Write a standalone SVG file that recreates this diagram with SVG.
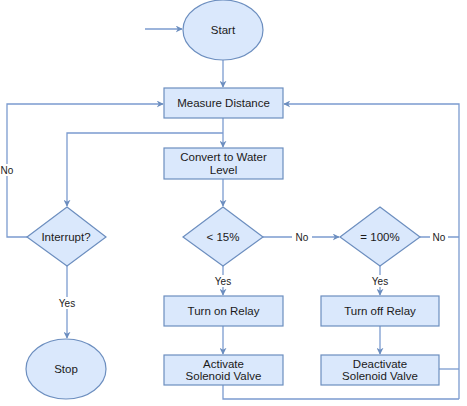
<svg xmlns="http://www.w3.org/2000/svg" width="467" height="406" viewBox="0 0 467 406">
<defs>
<marker id="ah" viewBox="0 0 10 10" refX="9" refY="5" markerWidth="7" markerHeight="7" orient="auto" markerUnits="userSpaceOnUse">
<path d="M0,0 L10,5 L0,10 L3,5 z" fill="#6c8ebf"/>
</marker>
<style>
.n{fill:#dae8fc;stroke:#6c8ebf;stroke-width:1.2}
.c{fill:none;stroke:#7b9bcf;stroke-width:1.3}
.t{font-family:"Liberation Sans",Arial,sans-serif;font-size:11.5px;fill:#1a1a1a;text-anchor:middle;dominant-baseline:central}
.l{font-family:"Liberation Sans",Arial,sans-serif;font-size:10px;fill:#1a1a1a;text-anchor:middle;dominant-baseline:central}
.lb{fill:#ffffff}
</style>
</defs>
<rect width="467" height="406" fill="#ffffff"/>
<g id="connectors">
<path class="c" d="M145,29 L182,29" marker-end="url(#ah)"/>
<path class="c" d="M223,60 L223,87" marker-end="url(#ah)"/>
<path class="c" d="M223,118 L223,147" marker-end="url(#ah)"/>
<path class="c" d="M223,133 L67,133 L67,206" marker-end="url(#ah)"/>
<path class="c" d="M223,179 L223,206" marker-end="url(#ah)"/>
<path class="c" d="M27,237 L7,237 L7,104 L163,104" marker-end="url(#ah)"/>
<path class="c" d="M67,266 L67,338" marker-end="url(#ah)"/>
<path class="c" d="M263,237 L339,237" marker-end="url(#ah)"/>
<path class="c" d="M420,237 L459,237"/>
<path class="c" d="M459,399 L459,104 L284,104" marker-end="url(#ah)"/>
<path class="c" d="M223,266 L223,295" marker-end="url(#ah)"/>
<path class="c" d="M380,266 L380,295" marker-end="url(#ah)"/>
<path class="c" d="M223,326 L223,354" marker-end="url(#ah)"/>
<path class="c" d="M380,326 L380,354" marker-end="url(#ah)"/>
<path class="c" d="M223,385 L223,399 L459,399"/>
<path class="c" d="M439,369 L459,369"/>
<rect class="lb" x="0" y="164" width="15" height="12"/>
<text class="l" x="7" y="170">No</text>
<rect class="lb" x="292" y="231" width="20" height="12"/>
<text class="l" x="302" y="237">No</text>
<rect class="lb" x="430" y="231" width="18" height="12"/>
<text class="l" x="439" y="237">No</text>
<rect class="lb" x="56" y="297" width="22" height="12"/>
<text class="l" x="67" y="303">Yes</text>
<rect class="lb" x="212" y="275" width="22" height="12"/>
<text class="l" x="223" y="281">Yes</text>
<rect class="lb" x="369" y="275" width="22" height="12"/>
<text class="l" x="380" y="281">Yes</text>
</g>
<g id="start"><ellipse class="n" cx="223" cy="30" rx="40" ry="30"/><text class="t" x="223" y="30">Start</text></g>
<g id="measure"><rect class="n" x="164" y="88" width="119" height="30"/><text class="t" x="223.5" y="103">Measure Distance</text></g>
<g id="convert"><rect class="n" x="164" y="148" width="119" height="31"/><text class="t" x="223.5" y="157">Convert to Water</text><text class="t" x="223.5" y="170">Level</text></g>
<g id="interrupt"><polygon class="n" points="67,207 106,237 67,266 27,237"/><text class="t" x="66" y="237">Interrupt?</text></g>
<g id="lt15"><polygon class="n" points="223,207 263,237 223,266 183,237"/><text class="t" x="223" y="237">&lt; 15%</text></g>
<g id="eq100"><polygon class="n" points="380,207 420,237 380,266 340,237"/><text class="t" x="380" y="237">= 100%</text></g>
<g id="stop"><ellipse class="n" cx="66" cy="369" rx="40" ry="30"/><text class="t" x="66" y="369">Stop</text></g>
<g id="relayon"><rect class="n" x="164" y="296" width="119" height="30"/><text class="t" x="223.5" y="311">Turn on Relay</text></g>
<g id="relayoff"><rect class="n" x="321" y="296" width="118" height="30"/><text class="t" x="380" y="311">Turn off Relay</text></g>
<g id="activate"><rect class="n" x="164" y="355" width="119" height="30"/><text class="t" x="223.5" y="364">Activate</text><text class="t" x="223.5" y="376">Solenoid Valve</text></g>
<g id="deactivate"><rect class="n" x="321" y="355" width="118" height="30"/><text class="t" x="380" y="364">Deactivate</text><text class="t" x="380" y="376">Solenoid Valve</text></g>
</svg>
